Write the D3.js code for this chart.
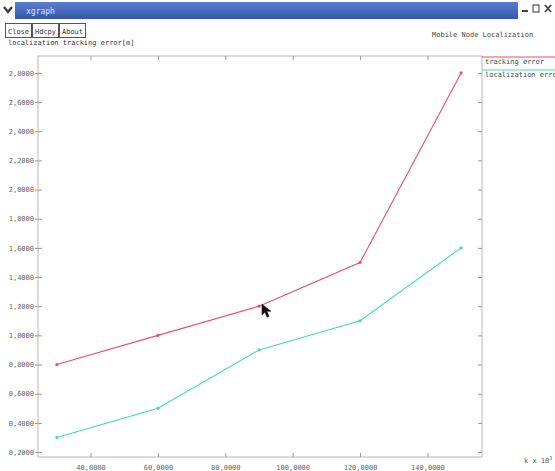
<!DOCTYPE html>
<html>
<head>
<meta charset="utf-8">
<script src="https://cdn.jsdelivr.net/npm/d3@7"></script>
<style>
  html, body { margin: 0; padding: 0; background: #fff; }
  svg { display: block; }
  text { font-family: "DejaVu Sans Mono", "Liberation Mono", monospace; }
</style>
</head>
<body>
<script>
// Sample sizes (x 10^3) and the two error series, in metres
const samples = [30, 60, 90, 120, 150];
const trackingError = [0.8, 1.0, 1.2, 1.5, 2.8];
const localizationError = [0.3, 0.5, 0.9, 1.1, 1.6];
const seriesNames = ["tracking error", "localization error"];
const xTicks = [40, 60, 80, 100, 120, 140];
const yTicks = [0.2, 0.4, 0.6, 0.8, 1.0, 1.2, 1.4, 1.6, 1.8, 2.0, 2.2, 2.4, 2.6, 2.8];
const buttons = ["Close", "Hdcpy", "About"];

const W = 555, H = 471;
const svg = d3.select("body").append("svg").attr("width", W).attr("height", H);

// window chrome: title bar
svg.append("rect").attr("x", 0).attr("y", 0).attr("width", W).attr("height", H).attr("fill", "#fff");
const grad = svg.append("defs").append("linearGradient").attr("id", "bar").attr("x1", 0).attr("x2", 0).attr("y1", 0).attr("y2", 1);
grad.append("stop").attr("offset", 0).attr("stop-color", "#5b7fd0");
grad.append("stop").attr("offset", 1).attr("stop-color", "#3556aa");
svg.append("rect").attr("x", 15).attr("y", 2).attr("width", 503).attr("height", 17).attr("fill", "url(#bar)");
svg.append("path").attr("d", "M4,7 L8,12 L12,7").attr("fill", "none").attr("stroke", "#335").attr("stroke-width", 2.2);
svg.append("text").attr("x", 26).attr("y", 14).attr("font-size", 8).attr("fill", "#dde6ff").text("xgraph");
// window buttons
svg.append("rect").attr("x", 522).attr("y", 10).attr("width", 6).attr("height", 2).attr("fill", "#444");
svg.append("rect").attr("x", 533).attr("y", 5).attr("width", 6).attr("height", 7).attr("fill", "none").attr("stroke", "#555").attr("stroke-width", 1.2);
svg.append("path").attr("d", "M545,5 L551,12 M551,5 L545,12").attr("stroke", "#444").attr("stroke-width", 1.8);

// command buttons
buttons.forEach((b, i) => {
  const bx = 5 + i * 27;
  svg.append("rect").attr("x", bx + 0.5).attr("y", 23.5).attr("width", 26).attr("height", 14)
    .attr("fill", "#fff").attr("stroke", "#555");
  svg.append("text").attr("x", bx + 13.5).attr("y", 33.5).attr("text-anchor", "middle")
    .attr("font-size", 7).attr("fill", "#333").text(b);
});

// titles
svg.append("text").attr("x", 8).attr("y", 45).attr("font-size", 7).attr("fill", "#333")
  .text("localization tracking error[m]");
svg.append("text").attr("x", 432).attr("y", 37).attr("font-size", 7).attr("fill", "#444")
  .text("Mobile Node Localization");

// plot area
const plotL = 38, plotR = 482, plotT = 56, plotB = 457;
const x = d3.scaleLinear().domain([24.4, 156.2]).range([plotL, plotR]);
const y = d3.scaleLinear().domain([0.166, 2.916]).range([plotB, plotT]);
const fmt = v => v.toFixed(4).replace(".", ",");

const frameColor = "#b8b8b8";
svg.append("rect").attr("x", plotL).attr("y", plotT).attr("width", plotR - plotL).attr("height", plotB - plotT)
  .attr("fill", "none").attr("stroke", frameColor).attr("stroke-width", 1);

// axes: labels outside, short ticks inward on all four sides
const tl = 4;
const axB = svg.append("g").attr("transform", `translate(0,${plotB})`)
  .call(d3.axisBottom(x).tickValues(xTicks).tickSize(-tl).tickPadding(8).tickFormat(fmt));
const axT = svg.append("g").attr("transform", `translate(0,${plotT})`)
  .call(d3.axisTop(x).tickValues(xTicks).tickSize(-tl).tickFormat(""));
const axL = svg.append("g").attr("transform", `translate(${plotL},0)`)
  .call(d3.axisLeft(y).tickValues(yTicks).tickSize(3).tickPadding(1).tickFormat(fmt));
const axR = svg.append("g").attr("transform", `translate(${plotR},0)`)
  .call(d3.axisRight(y).tickValues(yTicks).tickSize(-tl).tickFormat(""));
[axB, axT, axL, axR].forEach(g => {
  g.select(".domain").remove();
  g.selectAll(".tick line").attr("stroke", "#999");
  g.selectAll(".tick text").attr("font-size", 7).attr("fill", "#666")
    .style("font-family", "'DejaVu Sans Mono', monospace");
});
axL.selectAll(".tick line").attr("x2", -3).attr("x1", 4);

svg.append("text").attr("x", 524).attr("y", 463).attr("font-size", 7).attr("fill", "#555")
  .text("k x 10").append("tspan").attr("dy", -3).attr("font-size", 5).text("3");

// series
const colors = ["#e8506a", "#3ee0b0"];
const sets = [trackingError, localizationError];
const line = d3.line().x(d => x(d[0])).y(d => y(d[1]));
sets.forEach((vals, i) => {
  const pts = samples.map((s, j) => [s, vals[j]]);
  svg.append("path").datum(pts).attr("d", line).attr("fill", "none")
    .attr("stroke", colors[i]).attr("stroke-width", 1.1);
  svg.selectAll(null).data(pts).enter().append("circle")
    .attr("cx", d => x(d[0])).attr("cy", d => y(d[1])).attr("r", 1.6).attr("fill", colors[i]);
});

// legend to the right of the frame
seriesNames.forEach((n, i) => {
  const ly = plotT + 1 + i * 13;
  svg.append("line").attr("x1", plotR).attr("x2", W).attr("y1", ly).attr("y2", ly)
    .attr("stroke", colors[i]).attr("stroke-width", 1.2);
  svg.append("text").attr("x", plotR + 3).attr("y", ly + 7).attr("font-size", 7).attr("fill", "#444").text(n);
});

// mouse pointer resting near the third tracking point
const px = x(samples[2]) + 3, py = y(trackingError[2]) - 2;
svg.append("path")
  .attr("d", `M${px},${py} l0,11 l3,-3 l2,5 l2,-1 l-2,-5 l4,0 z`)
  .attr("fill", "#111").attr("stroke", "#111").attr("stroke-width", 0.5);
</script>
</body>
</html>
